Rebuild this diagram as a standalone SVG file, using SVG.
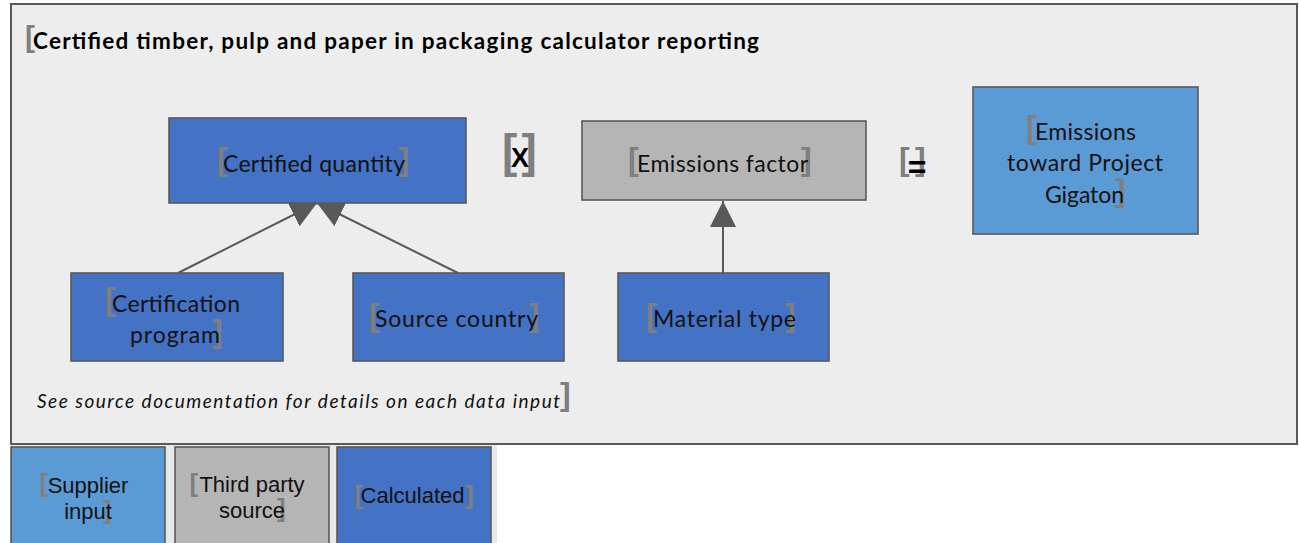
<svg xmlns="http://www.w3.org/2000/svg" width="1299" height="543" viewBox="0 0 1299 543">
<style>
.box{stroke:#595959;stroke-width:1.6}
.dk{fill:#4472C4}
.lt{fill:#5B9BD5}
.gr{fill:#B5B5B5}
.t{font-family:Lato,"Open Sans",sans-serif;font-size:23px;fill:#111;text-anchor:middle}
.lg{font-family:"Liberation Sans",Arial,sans-serif;font-size:22px;fill:#111;text-anchor:middle}
.br{font-family:"Liberation Sans",Arial,sans-serif;font-weight:bold;font-size:32px;fill:#7F7F7F}
.brs{font-family:"Liberation Sans",Arial,sans-serif;font-weight:bold;font-size:26px;fill:#7F7F7F}
.op{font-family:"Liberation Sans",Arial,sans-serif;font-weight:bold;fill:#000;text-anchor:middle}
.conn{stroke:#595959;stroke-width:2;fill:none;marker-end:url(#ah)}
</style>
<defs>
<marker id="ah" markerUnits="userSpaceOnUse" markerWidth="26" markerHeight="26" refX="26" refY="13" orient="auto">
<path d="M0,0 L26,13 L0,26 Z" fill="#595959"/>
</marker>
</defs>
<rect x="0" y="0" width="1299" height="543" fill="#FFFFFF"/>
<g id="container">
<rect x="11" y="4" width="1286" height="440" fill="#EDEDED" stroke="#595959" stroke-width="2"/>
<text class="br" x="25" y="47" style="font-size:30px">[</text>
<text x="33" y="49" font-family="Lato,sans-serif" font-weight="bold" font-size="22.5" fill="#000" textLength="726" lengthAdjust="spacing">Certified timber, pulp and paper in packaging calculator reporting</text>
<text class="br" x="560" y="405">]</text>
<text x="37" y="408" font-family="Lato,sans-serif" font-style="italic" font-size="19" fill="#111" textLength="523" lengthAdjust="spacing">See source documentation for details on each data input</text>
</g>
<g id="connectors">
<line class="conn" x1="178" y1="273" x2="317" y2="203"/>
<line class="conn" x1="458" y1="273" x2="317" y2="203"/>
<line class="conn" x1="723" y1="273" x2="723" y2="201"/>
</g>
<g id="certified-quantity">
<rect class="box dk" x="169" y="118" width="297" height="85"/>
<text class="br" x="217" y="170">[</text>
<text class="br" x="398.6" y="170">]</text>
<text class="t" x="314" y="172" textLength="182" lengthAdjust="spacing">Certified quantity</text>
</g>
<g id="op-multiply">
<text class="br" x="502" y="166.5" style="font-size:46px">[</text>
<text class="br" x="521.4" y="166.5" style="font-size:46px">]</text>
<text class="op" x="520" y="167" font-size="27">X</text>
</g>
<g id="emissions-factor">
<rect class="box gr" x="582" y="121" width="284" height="79"/>
<text class="br" x="628" y="170">[</text>
<text class="br" x="801" y="170">]</text>
<text class="t" x="722.5" y="172" textLength="171" lengthAdjust="spacing">Emissions factor</text>
</g>
<g id="op-equals">
<text class="br" x="899" y="170">[</text>
<text class="br" x="915" y="170">]</text>
<text class="op" x="917" y="178" font-size="32">=</text>
</g>
<g id="emissions-gigaton">
<rect class="box lt" x="973" y="87" width="225" height="147"/>
<text class="br" x="1026" y="138">[</text>
<text class="br" x="1115" y="201">]</text>
<text class="t" x="1085.5" y="140" textLength="101" lengthAdjust="spacing">Emissions</text>
<text class="t" x="1085" y="171" textLength="156" lengthAdjust="spacing">toward Project</text>
<text class="t" x="1084.5" y="203" textLength="79" lengthAdjust="spacing">Gigaton</text>
</g>
<g id="certification-program">
<rect class="box dk" x="71" y="273" width="212" height="88"/>
<text class="br" x="105" y="310">[</text>
<text class="br" x="212" y="342">]</text>
<text class="t" x="176" y="312" textLength="128" lengthAdjust="spacing">Certification</text>
<text class="t" x="175" y="343" textLength="90" lengthAdjust="spacing">program</text>
</g>
<g id="source-country">
<rect class="box dk" x="353" y="273" width="211" height="88"/>
<text class="br" x="369" y="326">[</text>
<text class="br" x="529" y="326">]</text>
<text class="t" x="456.5" y="327" textLength="163" lengthAdjust="spacing">Source country</text>
</g>
<g id="material-type">
<rect class="box dk" x="618" y="273" width="211" height="88"/>
<text class="br" x="646" y="326">[</text>
<text class="br" x="785" y="326">]</text>
<text class="t" x="724.5" y="327" textLength="143" lengthAdjust="spacing">Material type</text>
</g>
<rect x="11" y="445" width="486" height="98" fill="#E8E8E8"/>
<g id="legend-supplier">
<rect class="box lt" x="11" y="447" width="154" height="100"/>
<text class="brs" x="39.4" y="492">[</text>
<text class="brs" x="103" y="519">]</text>
<text class="lg" x="88" y="493">Supplier</text>
<text class="lg" x="88" y="519">input</text>
</g>
<g id="legend-third-party">
<rect class="box gr" x="175" y="447" width="154" height="100"/>
<text class="brs" x="189.4" y="492">[</text>
<text class="brs" x="277" y="517">]</text>
<text class="lg" x="252" y="492">Third party</text>
<text class="lg" x="252" y="518">source</text>
</g>
<g id="legend-calculated">
<rect class="box dk" x="337" y="447" width="154" height="100"/>
<text class="brs" x="354.4" y="504">[</text>
<text class="brs" x="465" y="504">]</text>
<text class="lg" x="412.5" y="503">Calculated</text>
</g>
</svg>
